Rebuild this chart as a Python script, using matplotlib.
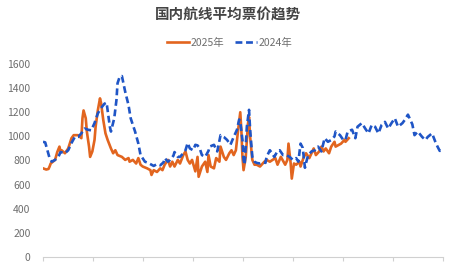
"""国内航线平均票价趋势 — 2025 vs 2024 daily average domestic fare."""
import matplotlib
matplotlib.use("Agg")
import matplotlib.pyplot as plt
import numpy as np

plt.rcParams["font.family"] = ["Noto Sans CJK SC", "DejaVu Sans"]

# ─── data (day index from start of year, average fare) ──────────────────
day_2024 = [0, 2, 4, 6, 8, 11, 14, 16, 20, 23, 26, 29, 32, 35, 38, 41, 44, 47,
            50, 53, 56, 58, 59, 61, 62, 65, 67, 68, 70, 72, 75, 78, 80, 84, 87,
            89, 93, 96, 99, 101, 104, 107, 110, 111, 114, 116, 119, 120, 123,
            125, 128, 130, 132, 134, 137, 139, 141, 143, 145, 148, 151, 152,
            156, 159, 162, 165, 168, 171, 174, 177, 179, 180, 182, 183, 184,
            186, 188, 189, 191, 193, 195, 198, 201, 203, 204, 207, 209, 211,
            212, 214, 216, 219, 222, 225, 228, 231, 233, 235, 237, 239, 240,
            242, 245, 248, 251, 254, 257, 260, 263, 266, 267, 271, 274, 276,
            278, 282, 285, 287, 291, 294, 297, 300, 303, 306, 309, 312, 315,
            318, 321, 324, 328, 330, 333, 337, 339, 342, 346, 349, 351, 355,
            358, 360, 362, 365]
fare_2024 = [955, 950, 885, 820, 790, 805, 830, 870, 860, 885, 945, 995, 995,
             1025, 1065, 1055, 1050, 1110, 1190, 1235, 1270, 1280, 1215, 1080,
             1040, 1150, 1300, 1440, 1495, 1500, 1370, 1260, 1150, 1040, 940,
             845, 790, 780, 765, 755, 770, 760, 785, 820, 790, 805, 840, 870,
             830, 830, 860, 885, 945, 900, 885, 930, 925, 900, 845, 830, 880,
             915, 930, 875, 1010, 995, 970, 930, 995, 1055, 1140, 1120, 970,
             805, 765, 1080, 1220, 1055, 830, 790, 780, 775, 785, 780, 830,
             885, 860, 830, 845, 880, 885, 845, 845, 830, 805, 820, 790, 940,
             905, 740, 780, 845, 875, 885, 915, 875, 985, 955, 970, 1000, 1040,
             1010, 970, 970, 1040, 1055, 985, 1080, 1110, 1065, 1025, 1095,
             1080, 1025, 1095, 1120, 1065, 1110, 1150, 1080, 1110, 1135, 1180,
             1100, 1010, 1040, 995, 970, 995, 1025, 955, 915, 880, 885]

day_2025 = [0, 3, 5, 6, 7, 11, 13, 15, 16, 17, 20, 23, 26, 28, 32, 35, 36, 37,
            39, 40, 42, 43, 45, 47, 48, 50, 52, 53, 55, 57, 59, 62, 64, 66, 68,
            72, 75, 78, 79, 82, 85, 87, 89, 91, 95, 98, 99, 101, 104, 107, 109,
            111, 114, 116, 118, 120, 123, 125, 128, 130, 132, 134, 136, 139,
            141, 142, 145, 148, 150, 151, 153, 156, 158, 161, 162, 165, 167,
            170, 172, 174, 176, 178, 180, 181, 182, 183, 185, 187, 188, 189,
            191, 193, 195, 198, 202, 204, 207, 212, 214, 217, 221, 223, 224,
            226, 227, 229, 231, 234, 235, 238, 240, 243, 245, 247, 249, 252,
            254, 256, 258, 261, 263, 266, 267, 270, 272, 275, 276, 279]
fare_2025 = [735, 725, 730, 750, 775, 805, 870, 915, 875, 885, 860, 900, 985,
             1010, 1010, 985, 1150, 1215, 1150, 1040, 915, 830, 875, 970, 1080,
             1215, 1315, 1275, 1135, 1025, 970, 900, 860, 885, 845, 830, 805,
             820, 790, 805, 775, 820, 765, 750, 735, 720, 680, 720, 705, 735,
             720, 765, 805, 750, 790, 750, 805, 775, 845, 875, 805, 775, 805,
             710, 830, 665, 750, 790, 705, 845, 750, 735, 820, 790, 915, 830,
             805, 860, 885, 845, 885, 1050, 1200, 1050, 830, 720, 830, 1105,
             1160, 995, 805, 765, 765, 750, 790, 805, 790, 820, 765, 830, 765,
             805, 940, 775, 650, 775, 765, 790, 750, 830, 860, 820, 860, 900,
             845, 875, 915, 875, 900, 860, 915, 955, 915, 930, 940, 970, 955,
             985]

y_ticks = [0, 200, 400, 600, 800, 1000, 1200, 1400, 1600]

c_2025 = "#E2651F"
c_2024 = "#1F55C6"
label_gray = "#6E6E6E"

fig = plt.figure(figsize=(4.68, 2.64), dpi=100)
ax = fig.add_axes([0.0919, 0.0265, 0.8547, 0.7311])

ax.plot(day_2025, fare_2025, color=c_2025, lw=1.9, label="2025年",
        solid_joinstyle="round", zorder=2)
ax.plot(day_2024, fare_2024, color=c_2024, lw=1.9, ls=(0, (2.6, 1.4)),
        label="2024年", zorder=3)

ax.set_xlim(0, 365)
ax.set_ylim(0, 1600)
ax.set_yticks(y_ticks)
ax.set_yticklabels([str(v) for v in y_ticks], fontsize=7.5, color=label_gray)
ax.set_xticks(np.linspace(0, 365, 9))
ax.set_xticklabels([])
ax.tick_params(axis="y", length=0, pad=9)
ax.tick_params(axis="x", length=3, width=0.8, color="#D0D0D0", direction="out")

for side in ("top", "right", "left"):
    ax.spines[side].set_visible(False)
ax.spines["bottom"].set_color("#D0D0D0")
ax.spines["bottom"].set_linewidth(0.8)

fig.text(0.487, 0.943, "国内航线平均票价趋势", ha="center", va="center",
         fontsize=10.5, fontweight="bold", color="#444444")
fig.legend(loc="center", bbox_to_anchor=(0.491, 0.837), ncol=2,
           frameon=False, fontsize=7.5, handlelength=2.1, handletextpad=0.15,
           columnspacing=1.0, labelcolor=label_gray)

fig.savefig("out.png", dpi=100)
plt.close(fig)
